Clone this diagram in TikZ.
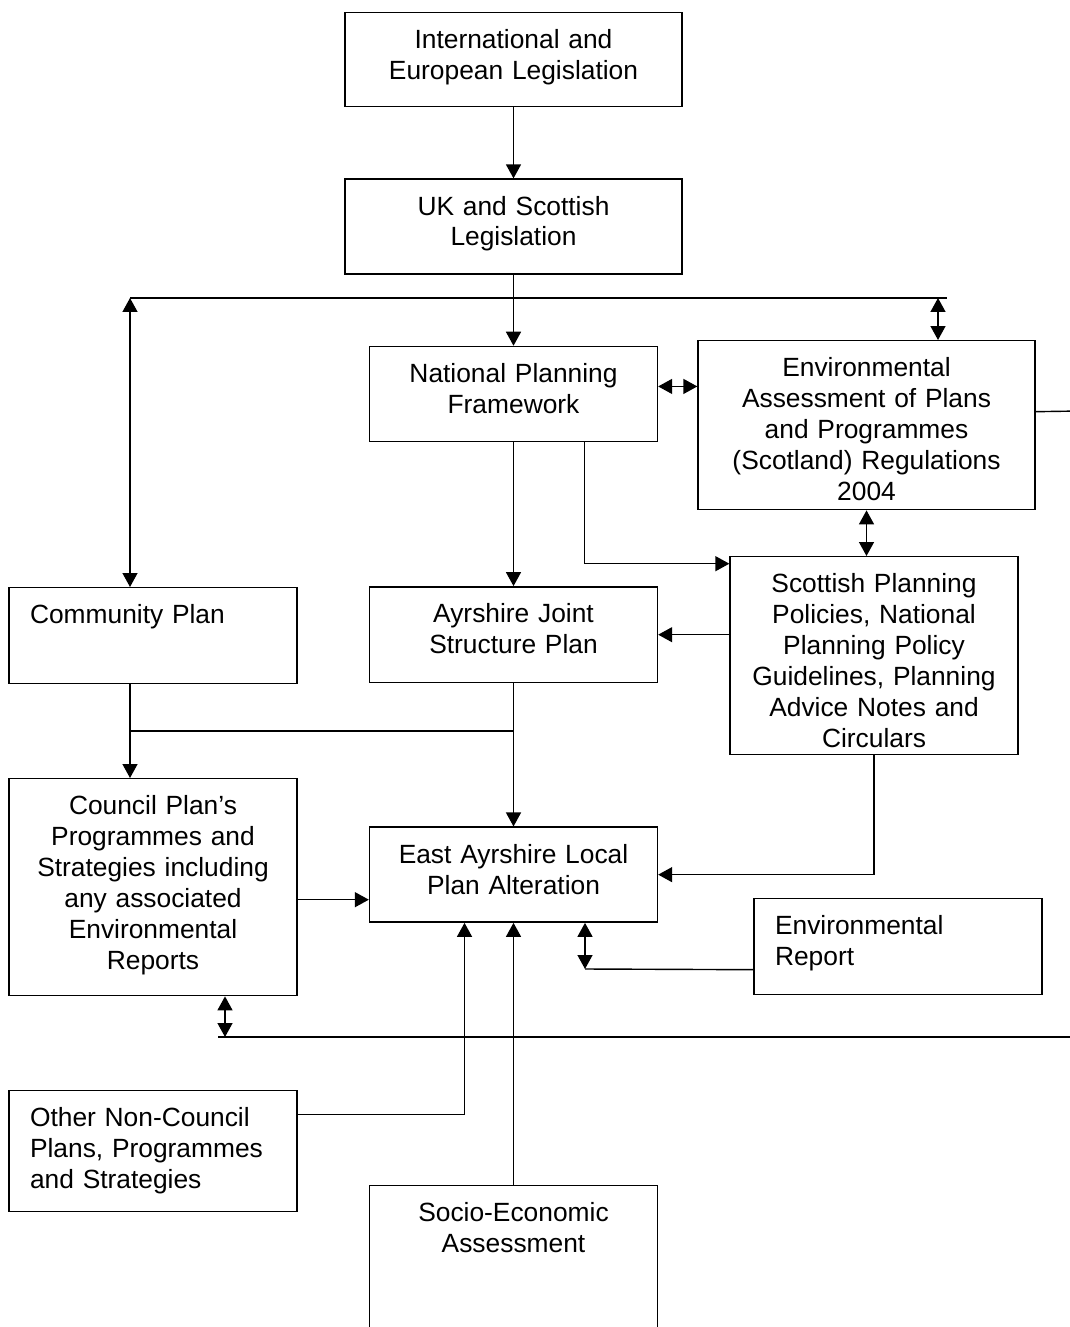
\documentclass[tikz,border=0pt]{standalone}
\usepackage{fontspec}
\setmainfont{Liberation Sans}
\usetikzlibrary{arrows.meta,positioning,calc}

\begin{document}
\begin{tikzpicture}[
    x=0.02cm, y=-0.02cm,
    font=\fontsize{15}{17.6}\selectfont,
    box/.style={rectangle, draw, line width=0.8pt, anchor=north, inner xsep=0.1cm, inner ysep=0pt, text width=5.56cm, align=center, text height=0.72cm, text depth=1.18cm},
    widebox/.style={box, text width=6.54cm},
    leftbox/.style={box, inner xsep=0.42cm, text width=4.92cm, align=left},
    wire/.style={draw, line width=0.8pt},
    line/.style={wire, -{Triangle[length=0.28cm,width=0.3cm]}},
    dline/.style={wire, {Triangle[length=0.28cm,width=0.3cm]}-{Triangle[length=0.28cm,width=0.3cm]}}
]
\clip (0,0) rectangle (1070,1327);

% middle column
\node [widebox, text depth=1.16cm] (intl) at (513.5,12) {International and\\European Legislation};
\node [widebox, below=1.42cm of intl] (uk) {UK and Scottish\\Legislation};
\node [box, below=1.42cm of uk] (npf) {National Planning\\Framework};
\node [box, below=2.88cm of npf, text depth=1.2cm] (ajsp) {Ayrshire Joint\\Structure Plan};
\node [box, below=2.86cm of ajsp] (elpa) {East Ayrshire Local\\Plan Alteration};
\node [box, below=5.24cm of elpa, text depth=3.4cm] (socio) {Socio-Economic\\Assessment};

% right column
\node [widebox, text depth=2.66cm] (ea) at (866.5,340) {Environmental\\Assessment of Plans\\and Programmes\\(Scotland) Regulations\\2004};
\node [box, text depth=3.24cm] (spp) at (874,556) {Scottish Planning\\Policies, National\\Planning Policy\\Guidelines, Planning\\Advice Notes and\\Circulars};
\node [leftbox, text depth=1.2cm] (envrep) at (898,898) {Environmental\\Report};

% left column
\node [leftbox, text depth=1.2cm] (cp) at (153,587) {Community Plan};
\node [box, text depth=3.62cm] (council) at (153,778) {Council Plan’s\\Programmes and\\Strategies including\\any associated\\Environmental\\Reports};
\node [leftbox, text depth=1.7cm] (other) at (153,1090) {Other Non-Council\\Plans, Programmes\\and Strategies};

\coordinate (busL) at (130,298);
\coordinate (busE) at (938,298);
\coordinate (busR) at (947,298);
\coordinate (eaout) at (1080,411);
\coordinate (join) at (130,731);
\coordinate (erc) at (585,969);
\coordinate (botL) at (218,1037);
\coordinate (botC) at (225,1037);
\coordinate (botR) at (1080,1037);

\path [line] (intl) -- (uk);
\path [wire] (busL) -- (busR);
\path [line] (uk) -- (npf);
\path [dline] (busL) -- (busL |- cp.north);
\path [dline] (busE) -- (busE |- ea.north);
\path [dline] ([yshift=0.15cm]npf.east) -- ([yshift=0.15cm]npf.east -| ea.west);
\path [wire] ([yshift=0.27cm]ea.east) -- (eaout);
\path [line] (npf) -- (ajsp);
\path [line] ([xshift=1.42cm]npf.south) |- ([yshift=1.84cm]spp.west);
\path [dline] (ea.south) -- (ea.south |- spp.north);
\path [line] ([yshift=0.42cm]spp.west) -- ([yshift=0.42cm]spp.west -| ajsp.east);
\path [line] (busL |- cp.south) -- (busL |- council.north);
\path [wire] (join) -- (join -| ajsp.south);
\path [line] (ajsp) -- (elpa);
\path [line] ([yshift=-0.25cm]council.east) -- ([yshift=-0.25cm]council.east -| elpa.west);
\path [line] (spp.south) |- (elpa.east);
\path [wire] ([yshift=-0.46cm]envrep.west) -- (erc);
\path [dline] (erc) -- (erc |- elpa.south);
\path [wire] (botL) -- (botR);
\path [dline] (botC) -- (botC |- council.south);
\path [line] ([yshift=0.73cm]other.east) -| ([xshift=-0.98cm]elpa.south);
\path [line] (socio) -- (elpa);

\end{tikzpicture}
\end{document}
